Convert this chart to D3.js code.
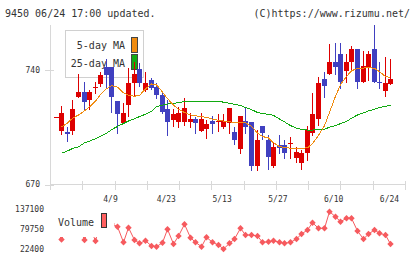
<!DOCTYPE html>
<html><head><meta charset="utf-8">
<script src="https://cdn.jsdelivr.net/npm/d3@7"></script>
<style>body{margin:0;background:#fff}svg{display:block}text{font-family:"DejaVu Sans Mono",monospace;fill:#333}</style>
</head><body><svg id="c" width="420" height="259"></svg>
<script>
const title = "9450 06/24 17:00 updated.";
const credit = "(C)https://www.rizumu.net/";
const dateTickIdx = [10, 20, 30, 40, 50, 60];
const dateTickLabels = ["4/9", "4/23", "5/13", "5/27", "6/10", "6/24"];
const priceTicks = [670, 740];
const volumeTicks = [22400, 79750, 137100];
const opens = [711.1,702.7,702.3,702.7,723.5,726.6,721.5,729.2,731.6,742,742,721,707.8,718.6,732.2,740.6,727.6,733.9,729.6,724.7,716.2,709.4,708.4,708.4,708.4,710.0,702.9,703.8,708.8,708.0,705.3,707.8,702.1,691.7,708.8,708.2,681.5,705.8,697.2,681.5,694.2,694.2,695.0,686.0,683.0,689.1,701.7,709.9,734.3,737.4,745.1,749.8,739.6,745.1,752.7,732.5,742.0,752.7,732.8,727.3,731.4];
const closes = [711.1,713.9,700.9,716.2,726.6,720.4,726.6,729.6,736.8,737,723.7,712.9,713.9,732.2,737.8,731.9,732.2,729.2,724.5,714.5,708.4,713,713.9,717.0,710.0,707.8,710.0,707.0,706.8,708.8,708.8,716.6,697.2,711.9,705.3,681.5,697.2,701.7,687.0,693.1,692.1,689.1,695.4,690.1,689.5,703.3,713.1,732.2,730.4,745.1,742.0,732.5,745.1,752.7,732.5,742.4,749.8,732.5,731.9,732.2,734.3];
const highs = [711.1,718.0,705.3,721.7,737.6,732.7,727.8,732.9,739.0,746.5,742,721,720,741,745,744,739,735,732,726.4,721.7,716,717.2,722.7,713.5,711.5,713.9,709.4,711.9,713.1,713.1,716.6,705.3,711.9,716.6,708.2,703.3,705.8,700.3,696.2,700.3,697.2,699.2,693.1,691.1,705.8,726.1,735.5,739.0,755.9,756.7,756.7,749.8,754.7,752.7,751.8,751.8,767.5,745.1,747.8,746.5];
const lows = [711.1,700.9,696.8,700.9,723.5,715.6,716,726.2,730.5,729.5,714.5,701.7,707.8,712,724.5,730,727,728.5,723,713.5,700.3,705.5,705.0,706.4,705.3,701.7,702.5,698.6,701.7,702.9,704.7,701.7,694.8,689.5,701.7,678.9,678.9,697.6,679.5,680.9,689.1,686.0,686.0,684.0,679.3,685.0,700.3,706.4,723.7,737.4,737.4,728.8,732.5,740.4,729.2,732.5,733.9,732.5,728.8,724.1,731.4];
const volumes = [80000,49600,85000,95000,90000,48200,88000,45300,100000,120000,95000,86300,41600,83500,48200,38700,46200,31000,29000,40500,78900,36700,59700,93200,54800,41600,29000,55900,41600,33900,22400,38700,51100,81700,62500,62500,59700,41600,43300,46200,41600,38700,41600,51100,65400,76900,97800,81700,81700,129400,115000,100700,110400,110400,74000,51100,65400,76900,67400,62500,36700];
const ma5 = [null,705.3,707.5,710.5,712.5,715,717.5,721,725,728.5,730.5,729.5,726,724.5,724,724.5,728.5,731.5,731,726.5,722.5,718.5,716,714,712.5,712,711.5,711,710,709.3,708.8,708.3,708,707.8,707.7,705.5,701.5,699.3,698.5,695.5,693.2,692.6,692.2,692.1,692.1,692.5,695,700,706,714,724,731,736,739.5,741,741.2,741.5,741,739,736,735.5];
const ma25 = [null,689.1,690.5,692.0,693.0,695.5,696.5,698.0,699.5,701.3,703.5,705.5,707.3,708.8,710.2,711.5,713.0,714.7,717.5,718.5,719.2,719.6,720.0,720.8,721.0,721.0,721.0,721.0,721.0,721.0,720.3,719.6,719.0,718.3,717.0,715.8,714.0,713.5,712.8,712.3,710.0,708.3,706.0,704.5,703.6,703.3,703.3,703.5,703.8,705.0,706.0,707.2,708.6,710.5,712.5,713.8,715.0,716.0,717.0,717.8,718.6];

const svg = d3.select("#c");
const idx = d3.range(opens.length);
const x = d3.scaleLinear().domain([-1.02, 62.6]).range([50, 405]);
const y = d3.scaleLinear().domain([670, 740]).range([184.5, 70]);
const yv = d3.scaleLinear().domain([22400, 137100]).range([249, 209]);
const tickX = d3.scaleLinear().domain([0, 11]).range([50, 405]);
const RED = "#dd0000", BLUE = "#4040c0", ORANGE = "#f08c10", GREEN = "#11aa11", VOL = "#f65a5e";
const cx = i => Math.round(x(i));

// header
svg.append("text").attr("x", 5).attr("y", 17).attr("font-size", 10).text(title);
svg.append("text").attr("x", 410).attr("y", 17).attr("font-size", 10).attr("text-anchor", "end").text(credit);

// axes
const ax = svg.append("g").attr("stroke", "#d8d8d8").attr("shape-rendering", "crispEdges");
ax.append("line").attr("x1", 50.5).attr("x2", 50.5).attr("y1", 25).attr("y2", 190);
ax.append("line").attr("x1", 50).attr("x2", 405).attr("y1", 184.5).attr("y2", 184.5);
ax.selectAll(".xt").data(d3.range(12)).join("line")
  .attr("x1", d => Math.round(tickX(d)) + 0.5).attr("x2", d => Math.round(tickX(d)) + 0.5)
  .attr("y1", 181).attr("y2", 190);
ax.selectAll(".yt").data(priceTicks).join("line")
  .attr("x1", 45).attr("x2", 54).attr("y1", d => Math.round(y(d)) + 0.5).attr("y2", d => Math.round(y(d)) + 0.5);
svg.selectAll(".yl").data(priceTicks).join("text")
  .attr("x", 40).attr("y", d => y(d)).attr("dy", "0.35em").attr("text-anchor", "end")
  .attr("font-size", 8).text(d => d);
svg.selectAll(".dl").data(dateTickIdx).join("text")
  .attr("x", (d) => x(d) - 1).attr("y", 201.5).attr("text-anchor", "middle")
  .attr("font-size", 8).text((d, k) => dateTickLabels[k]);

// price legend (candles drawn on top)
const lg = svg.append("g").attr("shape-rendering", "crispEdges");
lg.append("rect").attr("x", 65.5).attr("y", 30.5).attr("width", 78).attr("height", 47)
  .attr("fill", "#fff").attr("stroke", "#d0d0d0");
lg.append("text").attr("x", 125).attr("y", 49).attr("text-anchor", "end").attr("font-size", 10).text("5-day MA");
lg.append("text").attr("x", 125).attr("y", 66.5).attr("text-anchor", "end").attr("font-size", 10).text("25-day MA");
lg.append("rect").attr("x", 131.5).attr("y", 37.5).attr("width", 6).attr("height", 15).attr("fill", ORANGE).attr("stroke", "#444");
lg.append("rect").attr("x", 131.5).attr("y", 54.5).attr("width", 6).attr("height", 15).attr("fill", GREEN).attr("stroke", "#444");

// candles
const cg = svg.append("g").attr("shape-rendering", "crispEdges");
const col = i => closes[i] >= opens[i] ? RED : BLUE;
cg.selectAll(".w").data(idx).join("line")
  .attr("x1", i => cx(i) + 0.5).attr("x2", i => cx(i) + 0.5)
  .attr("y1", i => Math.round(y(highs[i]))).attr("y2", i => Math.round(y(lows[i])) + 1)
  .attr("stroke", col);
cg.selectAll(".b").data(idx).join("rect")
  .attr("x", i => cx(i) - 2).attr("width", 5)
  .attr("y", i => Math.round(y(Math.max(opens[i], closes[i]))))
  .attr("height", i => Math.max(1, Math.round(y(Math.min(opens[i], closes[i]))) - Math.round(y(Math.max(opens[i], closes[i])))))
  .attr("fill", col);

// moving averages
const maLine = arr => d3.line().defined(i => arr[i] != null).x(i => cx(i) + 0.5).y(i => y(arr[i]))(idx);
svg.append("path").attr("d", maLine(ma25)).attr("fill", "none").attr("stroke", GREEN).attr("stroke-width", 1).attr("shape-rendering", "crispEdges");
svg.append("path").attr("d", maLine(ma5)).attr("fill", "none").attr("stroke", ORANGE).attr("stroke-width", 1).attr("shape-rendering", "crispEdges");

// volume
svg.selectAll(".vl").data(volumeTicks).join("text")
  .attr("x", 44).attr("y", d => yv(d)).attr("dy", "0.35em").attr("text-anchor", "end")
  .attr("font-size", 8).text(d => d);
const vline = d3.line().x(i => cx(i) + 0.5).y(i => yv(volumes[i]));
svg.append("path").attr("d", vline(idx)).attr("fill", "none").attr("stroke", VOL).attr("stroke-width", 1);
svg.selectAll(".vp").data(idx).join("path")
  .attr("d", i => { const px = cx(i) + 0.5, py = yv(volumes[i]); return `M${px},${py-3.2}L${px+3.2},${py}L${px},${py+3.2}L${px-3.2},${py}Z`; })
  .attr("fill", VOL);
// volume legend (drawn over)
svg.append("rect").attr("x", 52).attr("y", 205).attr("width", 62).attr("height", 32).attr("fill", "#fff");
svg.append("text").attr("x", 58).attr("y", 226).attr("font-size", 10).text("Volume");
svg.append("rect").attr("x", 101.5).attr("y", 213.5).attr("width", 5).attr("height", 14)
  .attr("fill", "#ff6060").attr("stroke", "#333").attr("shape-rendering", "crispEdges");
</script></body></html>
